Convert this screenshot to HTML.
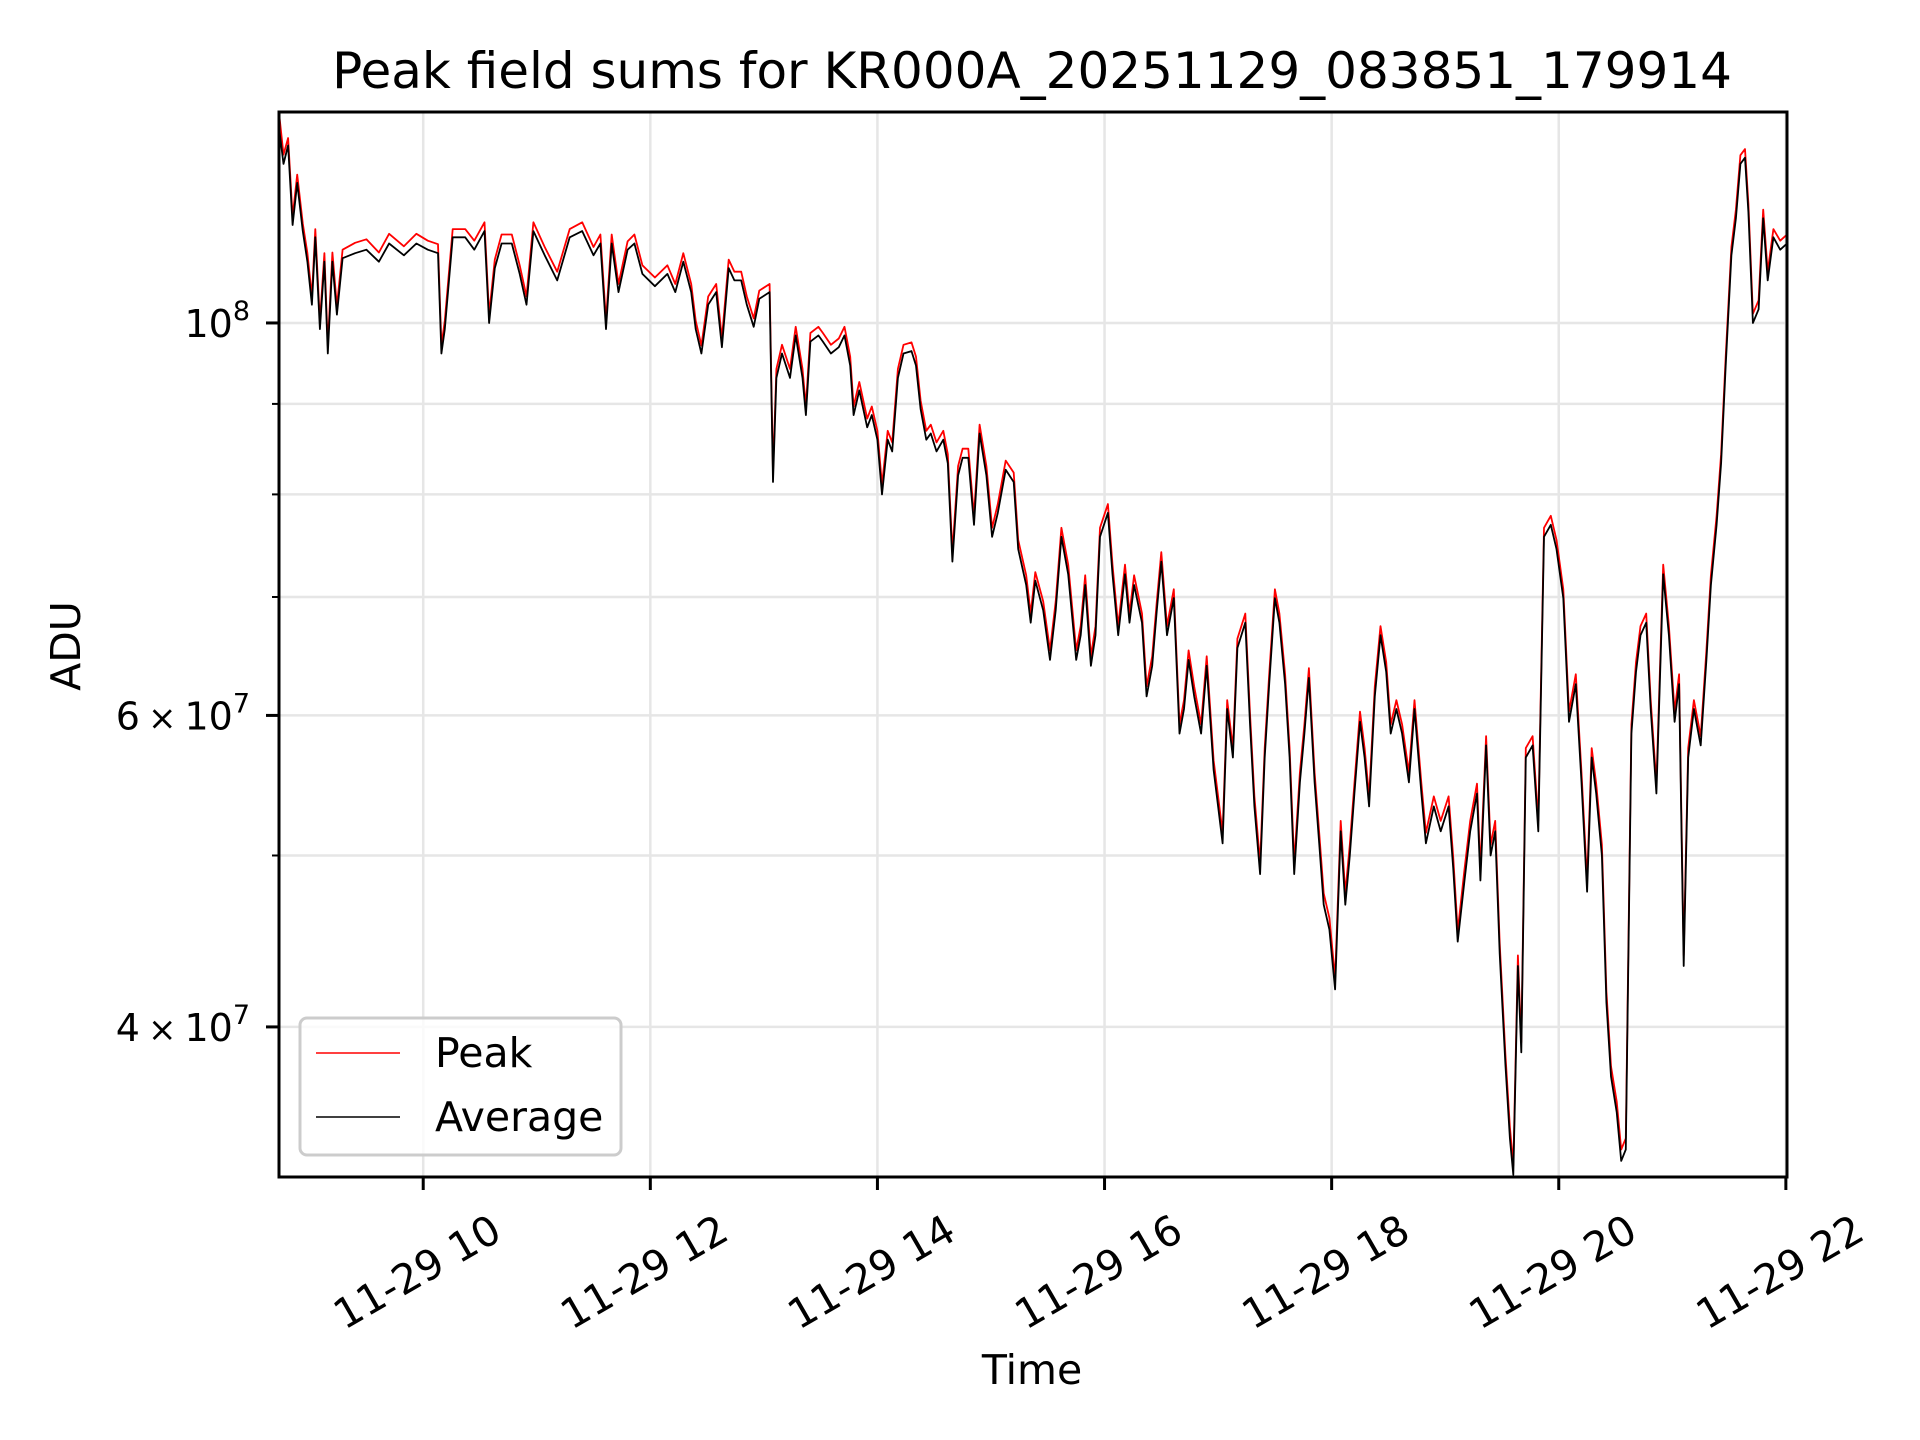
<!DOCTYPE html>
<html><head><meta charset="utf-8"><style>
html,body{margin:0;padding:0;background:#fff;}
svg{display:block;font-family:"DejaVu Sans","Liberation Sans",sans-serif;}
</style></head><body>
<svg id="chart" width="1920" height="1440" viewBox="0 0 1920 1440" xmlns="http://www.w3.org/2000/svg">
<rect width="1920" height="1440" fill="#fff"/>
<g id="grid"></g>
<g id="series"></g>
<g id="axes"></g>
<text x="1032" y="88" font-size="50" text-anchor="middle">Peak field sums for KR000A_20251129_083851_179914</text>
<text x="1032" y="1384" font-size="41" text-anchor="middle">Time</text>
<text x="80" y="646" font-size="41" text-anchor="middle" transform="rotate(-90 80 646)">ADU</text>
<g>
<rect x="300" y="1018" width="321" height="137" rx="7" fill="#fff" fill-opacity="0.8" stroke="#ccc" stroke-width="3"/>
<line x1="316" y1="1053" x2="400" y2="1053" stroke="#ff0000" stroke-width="1.6"/>
<text x="435" y="1067" font-size="41">Peak</text>
<line x1="316" y1="1117" x2="400" y2="1117" stroke="#000" stroke-width="1.6"/>
<text x="435" y="1131" font-size="41">Average</text>
</g>
</svg>
<script>
// hours since 11-29 00:00
const times = [8.73,8.77,8.81,8.85,8.89,8.94,8.98,9.02,9.05,9.09,9.13,9.16,9.20,9.24,9.29,9.40,9.50,9.61,9.70,9.83,9.94,10.04,10.13,10.16,10.19,10.26,10.37,10.45,10.54,10.58,10.63,10.69,10.78,10.85,10.91,10.97,11.07,11.18,11.29,11.40,11.50,11.56,11.61,11.66,11.72,11.80,11.86,11.93,12.04,12.15,12.22,12.29,12.36,12.40,12.45,12.51,12.58,12.63,12.69,12.74,12.80,12.85,12.91,12.96,13.05,13.08,13.11,13.16,13.23,13.28,13.34,13.37,13.41,13.48,13.52,13.59,13.66,13.71,13.76,13.79,13.84,13.91,13.95,14.00,14.04,14.09,14.13,14.18,14.23,14.30,14.34,14.38,14.43,14.47,14.52,14.58,14.62,14.66,14.71,14.75,14.80,14.85,14.90,14.96,15.01,15.06,15.13,15.20,15.24,15.31,15.35,15.39,15.46,15.52,15.57,15.62,15.68,15.75,15.79,15.83,15.88,15.92,15.96,16.03,16.07,16.12,16.18,16.22,16.26,16.33,16.37,16.42,16.46,16.50,16.55,16.61,16.66,16.70,16.74,16.79,16.85,16.90,16.96,17.00,17.04,17.08,17.13,17.17,17.24,17.28,17.32,17.37,17.41,17.45,17.50,17.54,17.59,17.63,17.67,17.72,17.76,17.80,17.85,17.89,17.93,17.98,18.03,18.08,18.12,18.16,18.20,18.25,18.29,18.33,18.38,18.43,18.48,18.52,18.57,18.62,18.68,18.73,18.79,18.83,18.90,18.96,19.03,19.07,19.11,19.17,19.22,19.28,19.31,19.36,19.40,19.44,19.48,19.53,19.57,19.60,19.64,19.67,19.71,19.77,19.82,19.87,19.93,19.98,20.04,20.09,20.15,20.20,20.25,20.29,20.33,20.38,20.42,20.46,20.51,20.55,20.59,20.64,20.68,20.72,20.77,20.81,20.86,20.92,20.97,21.02,21.06,21.10,21.14,21.19,21.25,21.30,21.34,21.39,21.43,21.47,21.52,21.56,21.60,21.64,21.67,21.71,21.76,21.80,21.84,21.89,21.95,22.01];
// Average values in units of 1e6 ADU
const averageValues = [129,123,126,113.6,120,112.7,108.3,102.4,111.8,99.2,108.3,96.1,108.3,101.1,108.8,109.5,110,108.3,110.9,109.2,110.9,110,109.5,96.1,99.2,111.8,111.8,110,112.7,100,107.4,110.9,110.9,106.6,102.4,112.7,109.2,105.7,111.8,112.7,109.2,110.9,99.2,110.9,104.1,110,110.9,106.6,104.9,106.6,104.1,108.3,104.1,99.2,96.1,102.4,104.1,96.9,107.4,105.7,105.7,102.4,99.5,103.2,104.1,81.3,93.1,96.1,93.1,98.4,93.1,88.7,97.6,98.4,97.6,96.1,96.9,98.4,94.6,88.7,91.6,87.3,88.7,85.9,80.0,85.9,84.6,93.1,96.1,96.4,94.6,89.4,85.9,86.6,84.6,85.9,83.3,73.3,82,83.9,83.9,76.9,86.6,82,75.7,78.1,82.6,81.3,74.5,71.1,67.7,71.5,68.8,64.5,68.8,75.7,72.1,64.5,66.6,71.1,64,66.6,75.7,78.1,72.1,66.6,72.1,67.7,71.1,67.7,61.5,64,68.8,73.3,66.6,69.9,58.6,60.5,64.5,61.5,58.6,64,55.9,53.3,50.8,60.5,56.8,65.5,67.7,59.5,53.3,48.8,56.8,62.5,69.9,67.7,62.5,56.8,48.8,55,58.6,63,55,50.8,46.9,45.4,42,51.6,46.9,50,54.2,59.5,56.8,53.3,61.5,66.6,63.5,58.6,60.5,58.6,55,60.5,54.2,50.8,53.3,51.6,53.3,49.2,44.7,48.4,51.6,54.2,48.4,57.7,50,51.6,44,38.1,34.6,33.0,43.3,38.7,56.8,57.7,51.6,75.7,76.9,74.5,69.9,59.5,62.5,55,47.7,56.8,54.2,50,41.3,37.5,35.8,33.6,34.1,58.6,63.5,66.6,67.7,60.5,54.2,72.1,66.6,59.5,62.5,43.3,56.8,60.5,57.7,64.5,71.1,76.9,83.3,94.6,109.2,114.6,123,124,115.5,100,101.8,114.6,105.7,111.8,110,110.9];
// Peak values in units of 1e6 ADU
const peakValues = [131.5,124.5,127.2,114.8,121.3,113.8,109.5,103.5,113,100.2,109.5,97.1,109.6,102.2,110,111,111.5,109.6,112.3,110.5,112.3,111.3,110.8,97.1,100.3,113,113,111.3,114,101.1,108.6,112.2,112.2,107.8,103.5,114,110.4,106.9,113,114,110.4,112.2,100.3,112.2,105.2,111.2,112.2,107.8,106.1,107.8,105.2,109.5,105.2,100.3,97.1,103.5,105.2,98,108.6,106.9,106.9,103.5,100.6,104.3,105.2,82.3,94.2,97.2,94.2,99.5,94.2,89.7,98.7,99.5,98.7,97.2,98,99.5,95.7,89.7,92.6,88.3,89.7,86.9,81,86.9,85.6,94.2,97.2,97.5,95.7,90.4,86.9,87.6,85.6,86.9,84.3,74.2,83,84.9,84.9,77.8,87.6,83,76.6,79,83.6,82.3,75.4,72,68.5,72.3,69.6,65.3,69.6,76.6,73,65.3,67.4,72,64.8,67.4,76.6,79,73,67.4,73,68.5,72,68.5,62.3,64.8,69.6,74.2,67.4,70.7,59.3,61.2,65.3,62.3,59.3,64.8,56.6,54,51.5,61.2,57.5,66.3,68.5,60.3,54,49.5,57.5,63.3,70.7,68.5,63.3,57.5,49.5,55.7,59.3,63.8,55.7,51.5,47.6,46.1,42.6,52.3,47.6,50.7,54.9,60.3,57.5,54,62.3,67.4,64.3,59.3,61.2,59.3,55.7,61.2,54.9,51.5,54,52.3,54,49.9,45.3,49.1,52.3,54.9,49.1,58.4,50.7,52.3,44.6,38.6,35.1,33.4,43.9,39.2,57.5,58.4,52.3,76.6,77.8,75.4,70.7,60.3,63.3,55.7,48.4,57.5,54.9,50.7,41.9,38,36.3,34.1,34.6,59.3,64.3,67.4,68.5,61.2,54.9,73,67.4,60.3,63.3,43.9,57.5,61.2,58.4,65.3,72,77.8,84.3,95.7,110.4,115.9,124.4,125.4,116.8,101.2,103,115.9,106.9,113,111.3,112.2];
const xTickHours = [10,12,14,16,18,20,22];
const xTickLabels = ["11-29 10","11-29 12","11-29 14","11-29 16","11-29 18","11-29 20","11-29 22"];
const yGridValues = [100,90,80,70,60,50,40];
const yLabelValues = [100,60,40];

const NS="http://www.w3.org/2000/svg";
const L=279,R=1787,T=112,B=1177;
const H0=8.73,H1=22.01;
const LOGTOP=Math.log10(131.6),PXDEC=1769;
function xs(h){return L+(h-H0)/(H1-H0)*(R-L);}
function ys(v){return T+(LOGTOP-Math.log10(v))*PXDEC;}
function mk(tag,attrs,parent){const e=document.createElementNS(NS,tag);for(const k in attrs)e.setAttribute(k,attrs[k]);parent.appendChild(e);return e;}
const grid=document.getElementById('grid'),axes=document.getElementById('axes'),series=document.getElementById('series');

xTickHours.forEach((h,i)=>{
  const x=xs(h);
  const g=mk('line',{x1:x,y1:T,x2:x,y2:B,stroke:'#e6e6e6','stroke-width':2.5},grid);
  
  
  const t=mk('line',{x1:x,y1:B,x2:x,y2:B+13,stroke:'#000','stroke-width':3},axes);
  
  
  const cx=x-6,cy=1272;
  const lb=mk('text',{x:cx,y:cy,'font-size':41,'text-anchor':'middle','dominant-baseline':'central',transform:`rotate(-30 ${cx} ${cy})`},axes);
  lb.textContent=xTickLabels[i];
  
  
});
yGridValues.forEach(v=>{
  const y=ys(v);
  const g=mk('line',{x1:L,y1:y,x2:R,y2:y,stroke:'#e6e6e6','stroke-width':2.5},grid);
  
  
  const major=yLabelValues.indexOf(v)>=0;
  const t=mk('line',{x1:L-(major?13:7),y1:y,x2:L,y2:y,stroke:'#000','stroke-width':major?3:2},axes);
  
  
});
yLabelValues.forEach(v=>{
  const y=ys(v);
  const lb=mk('text',{x:250,y:y+14,'font-size':38,'text-anchor':'end'},axes);
  
  
  if(v===100){lb.innerHTML='10<tspan font-size="27" dy="-17">8</tspan>';}
  else{lb.innerHTML=(v/10)+'<tspan font-size="34" dx="8">×</tspan><tspan dx="8">10</tspan><tspan font-size="27" dy="-17">7</tspan>';}
});
function path(vals,color,name){
  let d='';
  vals.forEach((v,i)=>{d+=(i?'L':'M')+xs(times[i]).toFixed(1)+','+ys(v).toFixed(1);});
  const p=mk('path',{d:d,fill:'none',stroke:color,'stroke-width':1.8,'stroke-linejoin':'round'},series);
  
  
}
const cp=mk('clipPath',{id:'clip'},document.getElementById('chart'));
mk('rect',{x:L,y:T,width:R-L,height:B-T},cp);
series.setAttribute('clip-path','url(#clip)');
path(peakValues,'#ff0000','peak-line');
path(averageValues,'#000000','average-line');
const fr=mk('rect',{x:L,y:T,width:R-L,height:B-T,fill:'none',stroke:'#000','stroke-width':3},axes);


</script>
</body></html>
